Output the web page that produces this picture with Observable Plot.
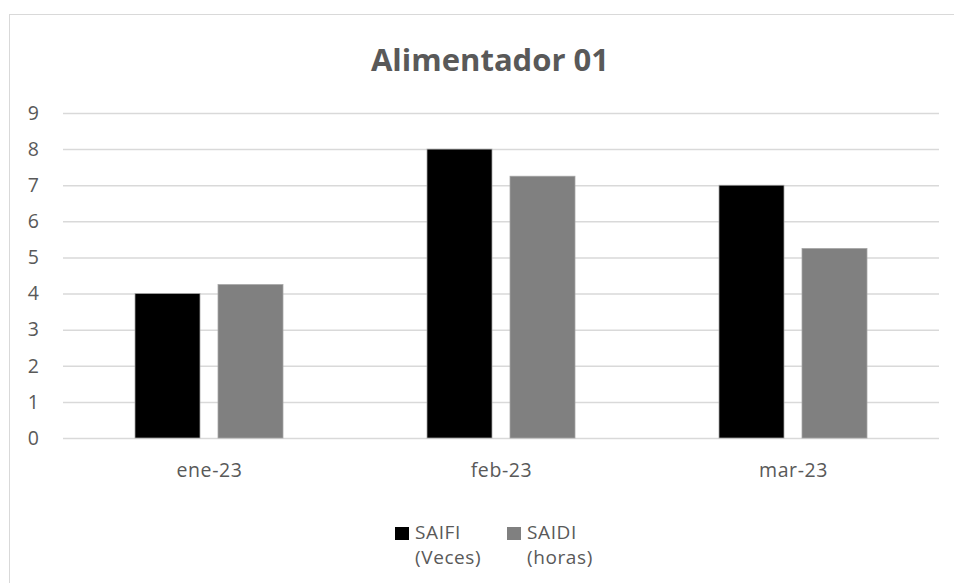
<!DOCTYPE html>
<html>
<head>
<meta charset="utf-8">
<script src="https://cdn.jsdelivr.net/npm/d3@7"></script>
<script src="https://cdn.jsdelivr.net/npm/@observablehq/plot@0.6"></script>
<style>
  html, body { margin: 0; padding: 0; background: #fff; }
  #wrap { position: relative; width: 954px; height: 583px; overflow: hidden; font-family: "Open Sans", sans-serif; }
  #frame { position: absolute; left: 9px; top: 14px; width: 962px; height: 600px; border: 1.5px solid #d9d9d9; box-sizing: border-box; }
  #title { position: absolute; left: 290px; width: 400px; top: 39px; text-align: center; font-size: 31px; font-weight: 700; color: #595959; line-height: 40px; }
  #chart { position: absolute; left: 0; top: 90px; }
  .leg { position: absolute; top: 520px; display: flex; align-items: flex-start; color: #595959; font-size: 19px; letter-spacing: 0.6px; line-height: 25px; }
  .sw { width: 14px; height: 13px; margin-top: 7px; margin-right: 6px; }
</style>
</head>
<body>
<div id="wrap">
  <div id="frame"></div>
  <div id="title">Alimentador 01</div>
  <div id="chart"></div>
  <div id="legend"></div>
</div>
<script>
// Monthly reliability indices for feeder 01
const months = ["ene-23", "feb-23", "mar-23"];
const seriesNames = ["SAIFI", "SAIDI"];
const seriesLabels = ["SAIFI\n(Veces)", "SAIDI\n(horas)"];
const saifi = [4, 8, 7];
const saidi = [4.25, 7.25, 5.25];
const yTicks = [0, 1, 2, 3, 4, 5, 6, 7, 8, 9];
const colors = ["#000000", "#808080"];

const rows = months.flatMap((m, i) => [
  {month: m, series: seriesNames[0], value: saifi[i]},
  {month: m, series: seriesNames[1], value: saidi[i]}
]);

const chart = Plot.plot({
  width: 954,
  height: 400,
  marginTop: 23,
  marginBottom: 52,
  marginLeft: 62,
  marginRight: 15,
  style: {fontFamily: "Open Sans, sans-serif", fontSize: "19.5px", color: "#595959", letterSpacing: "0.6px"},
  fx: {domain: months, padding: 0, label: null, tickSize: 0, tickPadding: 25, axis: "bottom"},
  x: {domain: seriesNames, axis: null, paddingInner: 0.214, paddingOuter: 0.851},
  y: {domain: [0, 9], ticks: yTicks, tickSize: 0, tickPadding: 24, label: null},
  color: {domain: seriesNames, range: colors},
  marks: [
    Plot.ruleY(yTicks, {stroke: "#d9d9d9", strokeWidth: 1.5}),
    Plot.barY(rows, {fx: "month", x: "series", y: "value", fill: "series", stroke: "#a6a6a6", strokeWidth: 0.75})
  ]
});
document.getElementById("chart").appendChild(chart);

// Legend below the plot
const legend = document.getElementById("legend");
const legLeft = [395, 507];
seriesNames.forEach((s, i) => {
  const item = document.createElement("div");
  item.className = "leg";
  item.style.left = legLeft[i] + "px";
  const sw = document.createElement("div");
  sw.className = "sw";
  sw.style.background = colors[i];
  const label = document.createElement("div");
  label.innerHTML = seriesLabels[i].split("\n").join("<br>");
  item.appendChild(sw);
  item.appendChild(label);
  legend.appendChild(item);
});
</script>
</body>
</html>
